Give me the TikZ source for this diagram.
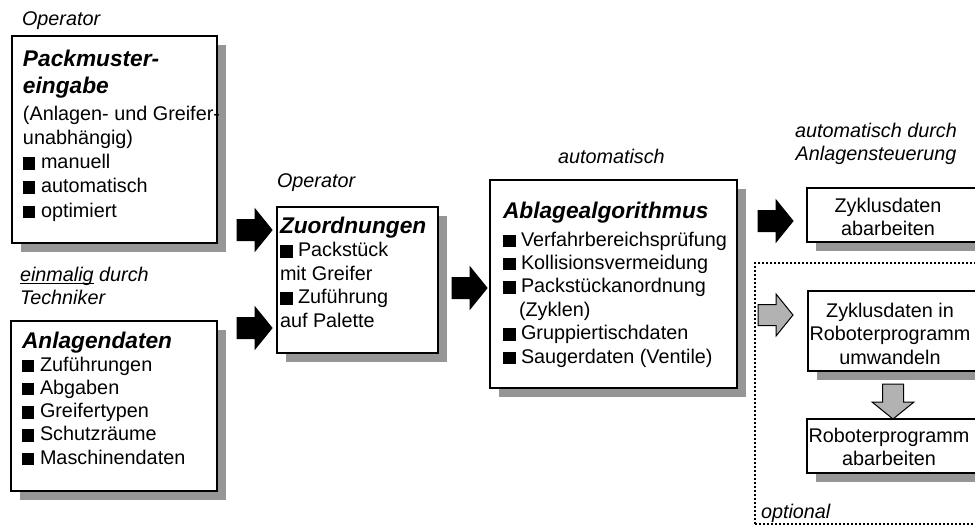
\documentclass[tikz,border=0pt]{standalone}
\usepackage{fontspec}
\setmainfont{Liberation Sans}
\usetikzlibrary{shadows}

\definecolor{shadowgray}{RGB}{150,150,150}
\definecolor{arrowgray}{RGB}{178,178,178}

% type sizes
\newcommand\bodysize{\fontsize{19.8}{23.5}\selectfont}
\newcommand\ttl{\fontsize{22.7}{23.5}\selectfont\bfseries\itshape}
% square bullet
\newcommand\bul{\rule[-1pt]{12.5pt}{12.5pt}\hspace{5.5pt}}
% underline that runs close to the baseline
\newcommand\underword[1]{\leavevmode\setbox0\hbox{#1}\rlap{\rule[-2.5pt]{\wd0}{0.9pt}}\box0\relax}
% top-aligned text block with a given line pitch
\newcommand\textblock[2]{\parbox[t]{320pt}{\raggedright\setlength{\baselineskip}{#1}#2}}
\newcommand\centerblock[2]{\parbox[t]{240pt}{\centering\setlength{\baselineskip}{#1}#2}}

\tikzset{
  box/.style={draw=black, line width=1.2pt, fill=white, inner sep=0pt, outer sep=0pt,
    anchor=north west,
    drop shadow={shadow xshift=9pt, shadow yshift=-9pt, opacity=1, fill=shadowgray}},
  optframe/.style={draw=black, line width=1.6pt, dash pattern=on 1.6pt off 2.4pt,
    inner sep=0pt, outer sep=0pt, anchor=north west},
  txt/.style={inner sep=0pt, outer sep=0pt, anchor=base west, font=\bodysize},
  ctxt/.style={inner sep=0pt, outer sep=0pt, anchor=base, font=\bodysize},
  lbl/.style={inner sep=0pt, outer sep=0pt, anchor=base west, font=\bodysize\itshape},
  blk/.style={fill=black, draw=black, line width=1pt},
  gry/.style={fill=arrowgray, draw=black, line width=1pt},
  pics/blockarrow/.style={code={
    \path[pic actions] (0,-10.5) -- (18,-10.5) -- (18,-21) -- (35,0)
      -- (18,21) -- (18,10.5) -- (0,10.5) -- cycle;}},
}

\begin{document}
\begin{tikzpicture}[x=1pt, y=-1pt]
\useasboundingbox (0,0) rectangle (975,525);
\clip (0,0) rectangle (975,525);

% ---- boxes ----
\node[box, minimum width=205pt, minimum height=207pt] (pm) at (12,36) {};
\node[box, minimum width=206pt, minimum height=170pt] (ad) at (11,321) {};
\node[box, minimum width=161pt, minimum height=146pt] (zu) at (277,207) {};
\node[box, minimum width=247pt, minimum height=208pt] (ab) at (490,180) {};
\node[box, minimum width=183pt, minimum height=54pt]  (zy) at (807,188) {};
\node[optframe, minimum width=240pt, minimum height=261pt] (opt) at (755,263) {};
\node[box, minimum width=182pt, minimum height=80pt]  (zr) at (808,291) {};
\node[box, minimum width=183pt, minimum height=54pt]  (ra) at (807,419) {};

% ---- box contents ----
\node[txt] (pmtext) at (23,66) {\textblock{24.3pt}{%
  {\ttl Packmuster-\\[2.7pt]eingabe}\\[2.7pt]
  (Anlagen- und Greifer-\\
  unabhängig)\\
  \bul manuell\\
  \bul automatisch\\
  \bul optimiert}};

\node[txt] (adtext) at (22,348) {\textblock{23.2pt}{%
  {\ttl Anlagendaten}\\
  \bul Zuführungen\\
  \bul Abgaben\\
  \bul Greifertypen\\
  \bul Schutzräume\\
  \bul Maschinendaten}};

\node[txt] (zutext) at (280,233) {\textblock{23.5pt}{%
  {\ttl Zuordnungen}\\
  \bul Packstück\\
  mit Greifer\\
  \bul Zuführung\\
  auf Palette}};

\node[txt] (abtext) at (503,218) {\textblock{23.4pt}{%
  {\ttl Ablagealgorithmus}\\[4.6pt]
  \bul Verfahrbereichsprüfung\\
  \bul Kollisionsvermeidung\\
  \bul Packstückanordnung\\
  \hspace*{16pt}(Zyklen)\\
  \bul Gruppiertischdaten\\
  \bul Saugerdaten (Ventile)}};

\node[ctxt] (zytext) at (888,212) {\centerblock{23.5pt}{Zyklusdaten\\abarbeiten}};
\node[ctxt] (zrtext) at (890,317) {\centerblock{23.5pt}{Zyklusdaten in\\Roboterprogramm\\umwandeln}};
\node[ctxt] (ratext) at (889,442) {\centerblock{23.5pt}{Roboterprogramm\\abarbeiten}};

% ---- labels ----
\node[lbl] (op1) at (22,25) {Operator};
\node[lbl] (tech) at (20,281) {\textblock{23pt}{\underword{einmalig} durch\\Techniker}};
\node[lbl] (op2) at (277,187) {Operator};
\node[lbl] (auto) at (558,163) {automatisch};
\node[ctxt, font=\bodysize\itshape] (steu) at (876,137)
  {\centerblock{23.5pt}{automatisch durch\\Anlagensteuerung}};
\node[lbl] (optl) at (761,518) {optional};

% ---- block arrows ----
\pic[blk] at (237,230) {blockarrow};
\pic[blk] at (237,328) {blockarrow};
\pic[blk] at (452,288) {blockarrow};
\pic[blk] at (758,221) {blockarrow};
\pic[gry] at (758,315) {blockarrow};
\pic[gry, rotate=-90] at (893,384) {blockarrow};
\end{tikzpicture}
\end{document}
